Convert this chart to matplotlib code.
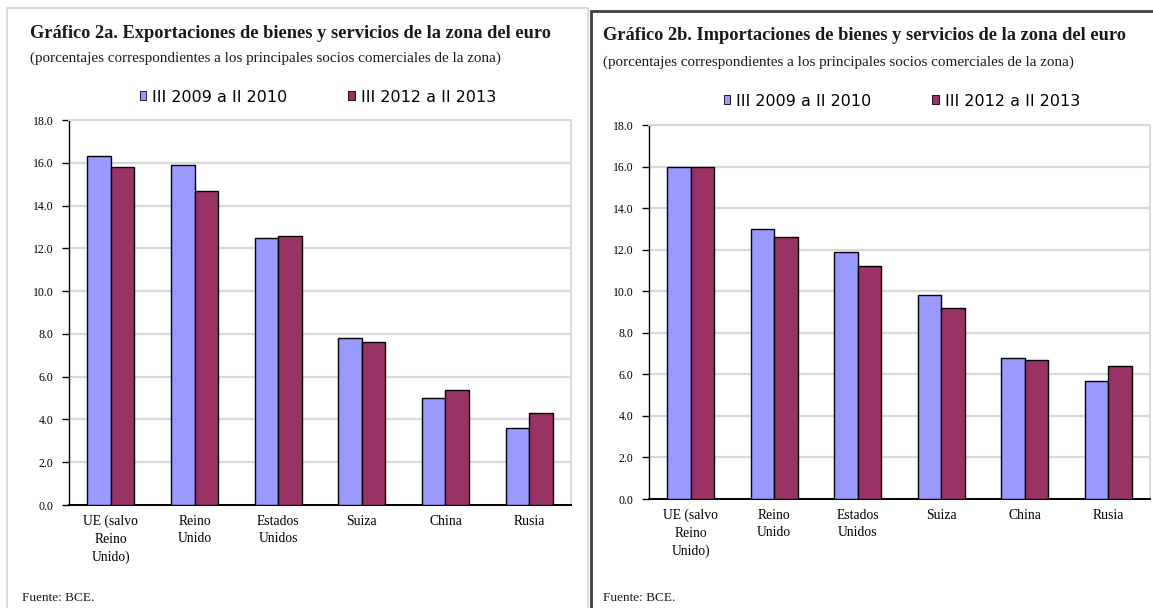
import matplotlib
matplotlib.use("Agg")
import matplotlib.pyplot as plt
from matplotlib.patches import Rectangle, Patch
import numpy as np

categories = ["UE (salvo\nReino\nUnido)", "Reino\nUnido", "Estados\nUnidos", "Suiza", "China", "Rusia"]
series_names = ["III 2009 a II 2010", "III 2012 a II 2013"]
export_2009 = [16.3, 15.9, 12.5, 7.8, 5.0, 3.6]
export_2012 = [15.8, 14.7, 12.6, 7.6, 5.4, 4.3]
import_2009 = [16.0, 13.0, 11.9, 9.8, 6.8, 5.7]
import_2012 = [16.0, 12.6, 11.2, 9.2, 6.7, 6.4]
yticks = [0, 2, 4, 6, 8, 10, 12, 14, 16, 18]

titles = ["Gráfico 2a. Exportaciones de bienes y servicios de la zona del euro",
          "Gráfico 2b. Importaciones de bienes y servicios de la zona del euro"]
subtitle = "(porcentajes correspondientes a los principales socios comerciales de la zona)"
source = "Fuente: BCE."

C1 = "#9999FF"
C2 = "#993366"
SERIF = ["Liberation Serif", "DejaVu Serif"]
SANS = ["DejaVu Sans"]

W, H = 1153, 608
fig = plt.figure(figsize=(W / 100, H / 100), dpi=100)
fig.patch.set_facecolor("white")

def fx(px):
    return px / W

def fy(py):
    return 1 - py / H

# panel frames
fig.patches.append(Rectangle((fx(7), fy(640)), fx(588) - fx(7), fy(8) - fy(640),
                             transform=fig.transFigure, fill=False, edgecolor="#d4d4d4", linewidth=1.2))
fig.patches.append(Rectangle((fx(591), fy(640)), fx(1190) - fx(591), fy(11) - fy(640),
                             transform=fig.transFigure, fill=False, edgecolor="#404040", linewidth=2.0))

panels = [
    dict(rect=[fx(69), fy(505), fx(571) - fx(69), fy(120) - fy(505)], data=(export_2009, export_2012),
         title_xy=(30, 33), sub_xy=(30, 58), leg_xy=(318, 97), src_xy=(22, 598)),
    dict(rect=[fx(649), fy(499), fx(1150) - fx(649), fy(125) - fy(499)], data=(import_2009, import_2012),
         title_xy=(603, 36), sub_xy=(603, 62), leg_xy=(902, 101), src_xy=(603, 598)),
]

for i, p in enumerate(panels):
    ax = fig.add_axes(p["rect"])
    x = np.arange(len(categories))
    bw = 0.28
    ax.bar(x - bw / 2, p["data"][0], width=bw, color=C1, edgecolor="black", linewidth=1.0, zorder=3)
    ax.bar(x + bw / 2, p["data"][1], width=bw, color=C2, edgecolor="black", linewidth=1.0, zorder=3)
    ax.set_xlim(-0.5, len(categories) - 0.5)
    ax.set_ylim(0, 18)
    ax.set_yticks(yticks)
    ax.set_yticklabels([f"{v:.1f}" for v in yticks], fontfamily=SERIF, fontsize=8.5)
    ax.set_xticks(x)
    ax.set_xticklabels(categories, fontfamily=SERIF, fontsize=9.8, linespacing=1.45, va="top")
    ax.tick_params(axis="x", length=0, pad=7)
    ax.tick_params(axis="y", length=5, width=1, direction="out", pad=6)
    ax.grid(axis="y", color="#d9d9d9", linewidth=1.6, zorder=0)
    ax.set_axisbelow(True)
    for s in ["top", "right"]:
        ax.spines[s].set_color("#d9d9d9")
        ax.spines[s].set_linewidth(1.4)
    ax.spines["left"].set_color("black")
    ax.spines["bottom"].set_color("black")
    ax.spines["bottom"].set_linewidth(1.4)
    ax.spines["left"].set_linewidth(1.0)

    tx, ty = p["title_xy"]
    fig.text(fx(tx), fy(ty), titles[i], fontfamily=SERIF, fontweight="bold", fontsize=13.25,
             ha="left", va="center", color="#1a1a1a")
    sx, sy = p["sub_xy"]
    fig.text(fx(sx), fy(sy), subtitle, fontfamily=SERIF, fontsize=10.9, ha="left", va="center", color="#1a1a1a")
    lx, ly = p["leg_xy"]
    handles = [Patch(facecolor=C1, edgecolor="black", linewidth=0.6),
               Patch(facecolor=C2, edgecolor="black", linewidth=0.6)]
    leg = fig.legend(handles, series_names, loc="center", bbox_to_anchor=(fx(lx), fy(ly)),
                     ncol=2, frameon=False, prop={"family": SANS, "size": 11.5},
                     handlelength=0.4, handleheight=0.5, handletextpad=0.4, columnspacing=3.8)
    srx, sry = p["src_xy"]
    fig.text(fx(srx), fy(sry), source, fontfamily=SERIF, fontsize=9.5, ha="left", va="center", color="#1a1a1a")

fig.savefig("out.png", dpi=100, facecolor="white")
